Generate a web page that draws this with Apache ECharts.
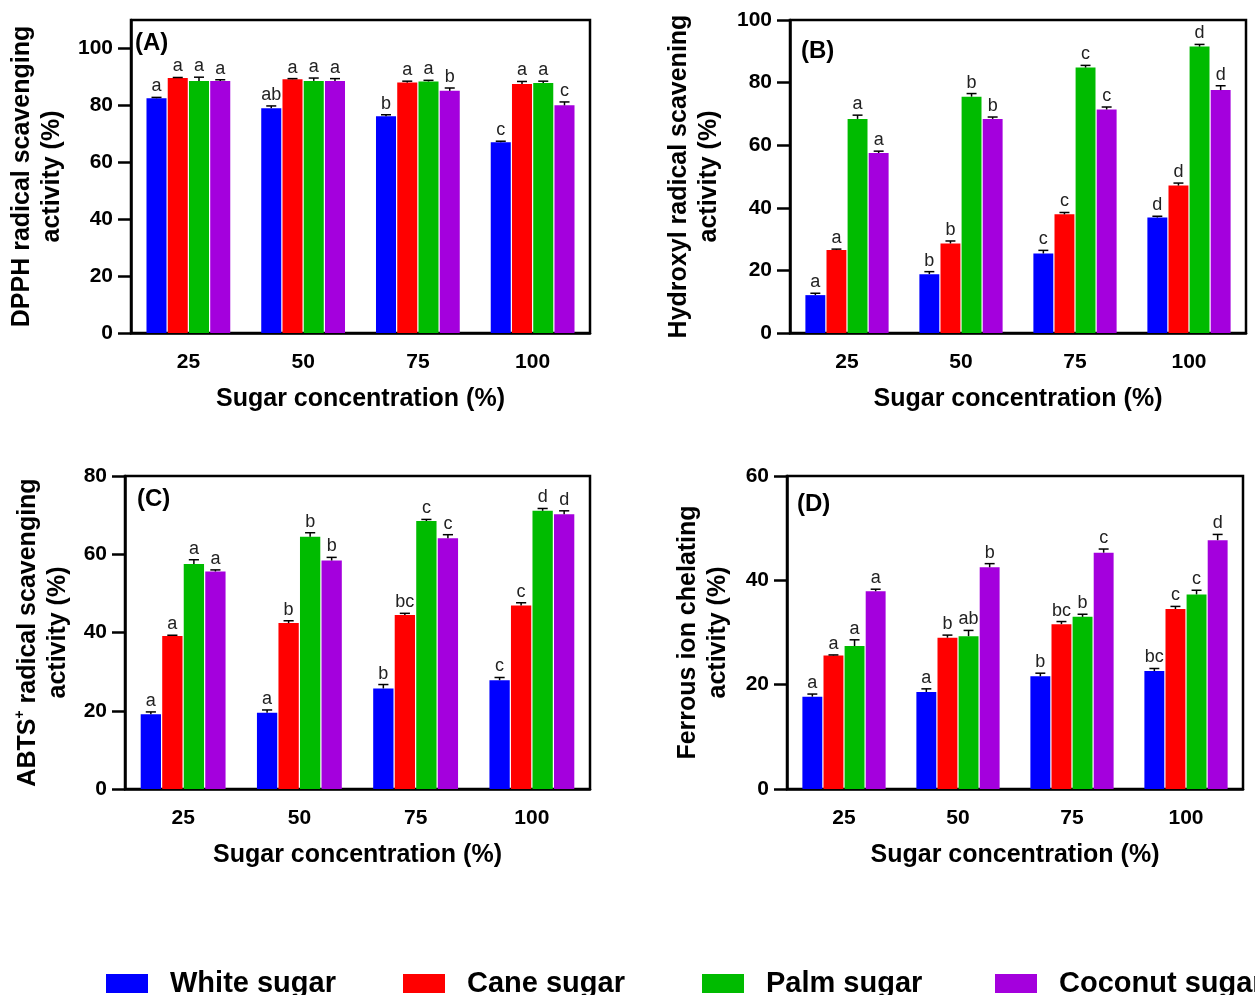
<!DOCTYPE html>
<html>
<head>
<meta charset="utf-8">
<title>Antioxidant activity</title>
<script src="https://cdn.jsdelivr.net/npm/echarts@6/dist/echarts.min.js"></script>
<style>
  html, body { margin: 0; padding: 0; background: #fff; }
  #chart { width: 1255px; height: 995px; }
</style>
</head>
<body>
<div id="chart"></div>
<script>
  // x categories and series names
  const categories = ['25', '50', '75', '100']
  const sugars = ['White sugar', 'Cane sugar', 'Palm sugar', 'Coconut sugar']
  const colors = ['#0000ff', '#ff0000', '#00bb00', '#a400dd']

  // (A) DPPH  - rows: white, cane, palm, coconut
  const dpphMeans = [[82.5, 79.0, 76.2, 67.0], [89.6, 89.2, 88.0, 87.5], [88.6, 88.6, 88.4, 87.9], [88.6, 88.6, 85.1, 80.0]]
  const dpphErrs = [[0.3, 0.8, 0.5, 0.4], [0.2, 0.2, 0.5, 0.9], [1.3, 1.0, 0.4, 0.6], [0.4, 0.8, 1.0, 1.2]]
  const dpphLetters = [['a', 'ab', 'b', 'c'], ['a', 'a', 'a', 'a'], ['a', 'a', 'a', 'a'], ['a', 'a', 'b', 'c']]

  // (B) hydroxyl
  const hydroxylMeans = [[12.1, 18.8, 25.4, 36.9], [26.5, 28.6, 37.9, 47.1], [68.4, 75.5, 84.8, 91.5], [57.5, 68.4, 71.4, 77.6]]
  const hydroxylErrs = [[0.6, 0.8, 1.0, 0.4], [0.3, 0.8, 0.6, 0.8], [1.2, 1.0, 0.7, 0.7], [0.6, 0.6, 0.8, 1.4]]
  const hydroxylLetters = [['a', 'b', 'c', 'd'], ['a', 'b', 'c', 'd'], ['a', 'b', 'c', 'd'], ['a', 'b', 'c', 'd']]

  // (C) ABTS+
  const abtsMeans = [[19.1, 19.5, 25.7, 27.8], [39.1, 42.4, 44.5, 46.9], [57.5, 64.5, 68.5, 71.1], [55.6, 58.4, 64.1, 70.2]]
  const abtsErrs = [[0.6, 0.7, 1.0, 0.7], [0.2, 0.6, 0.4, 0.7], [1.1, 1.0, 0.4, 0.6], [0.4, 0.8, 0.9, 0.9]]
  const abtsLetters = [['a', 'a', 'b', 'c'], ['a', 'b', 'bc', 'c'], ['a', 'b', 'c', 'd'], ['a', 'b', 'c', 'd']]

  // (D) ferrous ion chelating
  const ferrousMeans = [[17.7, 18.6, 21.6, 22.6], [25.6, 29.0, 31.6, 34.5], [27.4, 29.3, 33.0, 37.3], [37.9, 42.5, 45.3, 47.7]]
  const ferrousErrs = [[0.5, 0.6, 0.6, 0.5], [0.1, 0.5, 0.5, 0.5], [1.2, 1.1, 0.5, 0.8], [0.4, 0.7, 0.7, 1.1]]
  const ferrousLetters = [['a', 'a', 'b', 'bc'], ['a', 'b', 'bc', 'c'], ['a', 'ab', 'b', 'c'], ['a', 'b', 'c', 'd']]

  const FONT = '"Liberation Sans", Arial, sans-serif'
  const CAT_GAP = 0.27
  const BAR_GAP = 0.06

  const panels = [
    { tag: '(A)', means: dpphMeans, errs: dpphErrs, letters: dpphLetters, max: 110, ticks: [0, 20, 40, 60, 80, 100],
      yTitle: 'DPPH radical scavenging\nactivity (%)', nameGap: 64,
      grid: { left: 131, top: 20, width: 459, height: 313 }, tagPos: [135, 31] },
    { tag: '(B)', means: hydroxylMeans, errs: hydroxylErrs, letters: hydroxylLetters, max: 100, ticks: [0, 20, 40, 60, 80, 100],
      yTitle: 'Hydroxyl radical scavening\nactivity (%)', nameGap: 66,
      grid: { left: 790, top: 20, width: 456, height: 313 }, tagPos: [801, 39] },
    { tag: '(C)', means: abtsMeans, errs: abtsErrs, letters: abtsLetters, max: 80, ticks: [0, 20, 40, 60, 80],
      yTitle: '{n|ABTS}{s|+}{n| radical scavenging}\n{n|activity (%)}', nameGap: 52,
      grid: { left: 125, top: 476, width: 465, height: 313 }, tagPos: [137, 487] },
    { tag: '(D)', means: ferrousMeans, errs: ferrousErrs, letters: ferrousLetters, max: 60, ticks: [0, 20, 40, 60],
      yTitle: 'Ferrous ion chelating\nactivity (%)', nameGap: 54,
      grid: { left: 787, top: 476, width: 456, height: 313 }, tagPos: [797, 492] }
  ]

  const axisLine = { show: true, lineStyle: { color: '#000', width: 2.5 } }

  function errorSeries (p, gi, si) {
    return {
      type: 'custom',
      xAxisIndex: gi,
      yAxisIndex: gi,
      z: 10,
      silent: true,
      data: categories.map((c, k) => [k, p.means[si][k], p.errs[si][k]]),
      encode: { x: 0, y: 1 },
      renderItem: (params, api) => {
        const k = api.value(0)
        const m = api.value(1)
        const e = api.value(2)
        const band = api.size([1, 0])[0]
        const groupW = band * (1 - CAT_GAP)
        const w = groupW / (4 + 3 * BAR_GAP)
        const x = api.coord([k, 0])[0] - groupW / 2 + si * w * (1 + BAR_GAP) + w / 2
        const yBar = api.coord([k, m])[1]
        const yTop = api.coord([k, m + e])[1]
        const cap = w * 0.5
        const stroke = { stroke: '#000', lineWidth: 1.5 }
        return {
          type: 'group',
          children: [
            { type: 'line', shape: { x1: x, y1: yBar, x2: x, y2: yTop }, style: stroke },
            { type: 'line', shape: { x1: x - cap / 2, y1: yTop, x2: x + cap / 2, y2: yTop }, style: stroke },
            { type: 'text', x: x, y: yTop - 2,
              style: { text: p.letters[si][params.dataIndex], align: 'center', verticalAlign: 'bottom',
                fontSize: 18, fontFamily: FONT, fill: '#222' } }
          ]
        }
      }
    }
  }

  const grids = []
  const xAxes = []
  const yAxes = []
  const series = []
  const titles = []

  panels.forEach((p, gi) => {
    grids.push(Object.assign({ show: true, borderColor: '#000', borderWidth: 2.5 }, p.grid))
    xAxes.push({
      gridIndex: gi,
      type: 'category',
      data: categories,
      axisLine: axisLine,
      axisTick: { alignWithLabel: true, length: 13, lineStyle: { color: '#000', width: 2.5 } },
      axisLabel: { fontSize: 21, fontWeight: 'bold', color: '#000', fontFamily: FONT, margin: 19 },
      name: 'Sugar concentration (%)',
      nameLocation: 'middle',
      nameGap: 54,
      nameTextStyle: { fontSize: 25, fontWeight: 'bold', color: '#000', fontFamily: FONT }
    })
    yAxes.push({
      gridIndex: gi,
      type: 'value',
      min: 0,
      max: p.max,
      interval: 20,
      axisLine: axisLine,
      axisTick: { show: true, length: 13, lineStyle: { color: '#000', width: 2.5 }, customValues: p.ticks },
      axisLabel: { fontSize: 21, fontWeight: 'bold', color: '#000', fontFamily: FONT, margin: 18, customValues: p.ticks },
      splitLine: { show: false },
      name: p.yTitle,
      nameLocation: 'middle',
      nameRotate: 90,
      nameGap: p.nameGap,
      nameTextStyle: {
        fontSize: 25, fontWeight: 'bold', color: '#000', fontFamily: FONT, lineHeight: 30,
        rich: {
          n: { fontSize: 25, fontWeight: 'bold', color: '#000', fontFamily: FONT, lineHeight: 30 },
          s: { fontSize: 14, fontWeight: 'bold', color: '#000', fontFamily: FONT, verticalAlign: 'top', lineHeight: 30 }
        }
      }
    })
    titles.push({
      text: p.tag, left: p.tagPos[0], top: p.tagPos[1], padding: 0,
      textStyle: { fontSize: 24, fontWeight: 'bold', color: '#000', fontFamily: FONT }
    })
    sugars.forEach((s, si) => {
      series.push({
        name: s,
        type: 'bar',
        xAxisIndex: gi,
        yAxisIndex: gi,
        data: p.means[si],
        barCategoryGap: (CAT_GAP * 100) + '%',
        barGap: (BAR_GAP * 100) + '%',
        itemStyle: { color: colors[si] },
        silent: true
      })
    })
    sugars.forEach((s, si) => {
      series.push(errorSeries(p, gi, si))
    })
  })

  const legendLeft = [101, 398, 697, 990]
  const legends = sugars.map((s, i) => ({
    data: [s],
    left: legendLeft[i],
    top: 964,
    icon: 'rect',
    itemWidth: 42,
    itemHeight: 19,
    selectedMode: false,
    textStyle: { fontSize: 29, fontWeight: 'bold', color: '#000', fontFamily: FONT, padding: [0, 0, 0, 17] }
  }))

  const chart = echarts.init(document.getElementById('chart'))
  chart.setOption({
    animation: false,
    color: colors,
    title: titles,
    legend: legends,
    grid: grids,
    xAxis: xAxes,
    yAxis: yAxes,
    series: series
  })
</script>
</body>
</html>
